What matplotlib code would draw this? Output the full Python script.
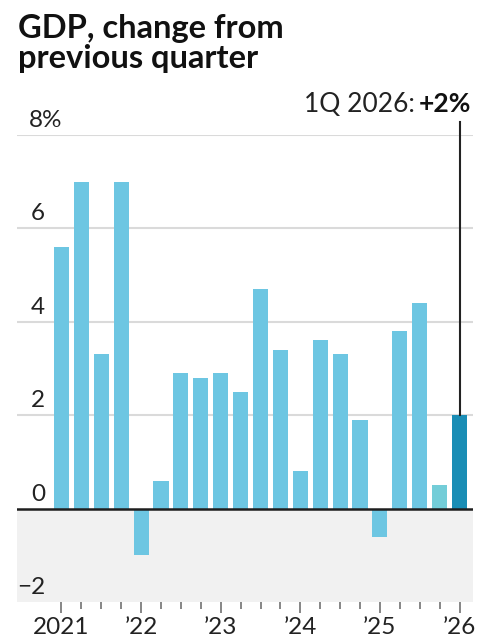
import matplotlib
matplotlib.use("Agg")
import matplotlib.pyplot as plt
import matplotlib.transforms as mtransforms

plt.rcParams['font.family'] = ['Lato', 'DejaVu Sans']

# Quarterly GDP change, annualized (%) 1Q 2021 .. 1Q 2026
quarters = ['1Q21', '2Q21', '3Q21', '4Q21', '1Q22', '2Q22', '3Q22', '4Q22',
            '1Q23', '2Q23', '3Q23', '4Q23', '1Q24', '2Q24', '3Q24', '4Q24',
            '1Q25', '2Q25', '3Q25', '4Q25', '1Q26']
values = [5.6, 7.0, 3.3, 7.0, -1.0, 0.6, 2.9, 2.8,
          2.9, 2.5, 4.7, 3.4, 0.8, 3.6, 3.3, 1.9,
          -0.6, 3.8, 4.4, 0.5, 2.0]
year_labels = ['2021', '\u201922', '\u201923', '\u201924', '\u201925', '\u201926']
y_ticks = [-2, 0, 2, 4, 6, 8]
y_tick_labels = ['\u22122', '0', '2', '4', '6', '8%']

light = '#6dc6e2'
dark = '#1a8db5'
colors = [light] * len(values)
colors[-2] = '#73cdd8'
colors[-1] = dark

W, H = 485, 643
fig = plt.figure(figsize=(W / 100, H / 100), dpi=100)
ax = fig.add_axes([17 / W, 1 - 602 / H, 456 / W, 467 / H])

x = list(range(len(values)))
ax.set_xlim(-2.236, 20.678)
ax.set_ylim(-2, 8)

# shaded negative zone and gridlines
ax.axhspan(-2, 0, color='#f1f1f1', zorder=0, lw=0)
for v in y_ticks[2:]:
    ax.axhline(v, color='#dadada', lw=1.5, zorder=1)

ax.bar(x, values, width=0.76, color=colors, zorder=2)
ax.axhline(0, color='#1e1e1e', lw=1.8, zorder=3)

for s in ax.spines.values():
    s.set_visible(False)
ax.set_yticks([])

# y labels sit above the gridlines
trans = mtransforms.blended_transform_factory(ax.transAxes, ax.transData)
for v, lab in zip(y_ticks, y_tick_labels):
    if lab.endswith('%'):
        xa, ha = 0.026, 'left'
    else:
        xa, ha = 0.0614, 'right'
    ax.annotate(lab, xy=(xa, v), xycoords=trans, xytext=(0, 8),
                textcoords='offset pixels', ha=ha, va='baseline',
                fontsize=17.5, color='#222222')

# x ticks: long ones at year starts, short ones for other quarters
year_idx = [i for i in x if i % 4 == 0]
ax.set_xticks(year_idx)
ax.set_xticklabels(year_labels, fontsize=17.5, color='#222222')
ax.set_xticks([i for i in x if i % 4 != 0], minor=True)
ax.tick_params(axis='x', which='major', length=8, width=1.1, color='#666666', pad=3)
ax.tick_params(axis='x', which='minor', length=5, width=1.1, color='#666666')

# title
fig.text(18 / W, 1 - 14 / H, 'GDP, change from\nprevious quarter', ha='left', va='top',
         fontsize=23.5, fontweight='bold', color='#111111', linespacing=1.05)

# annotation for latest quarter
line_top = 8 + 13 * (10 / 467)
ax.plot([x[-1], x[-1]], [values[-1], line_top], color='#222222', lw=1.5,
        clip_on=False, zorder=4)
fig.canvas.draw()
r = fig.canvas.get_renderer()
bold = fig.text(471 / W, 1 - 112 / H, '+%g%%' % values[-1], ha='right', va='baseline',
                fontsize=19, fontweight='bold', color='#111111')
bb = bold.get_window_extent(renderer=r)
fig.text(bb.x0 / W - 4 / W, 1 - 112 / H, '1Q 2026:', ha='right', va='baseline',
         fontsize=19, color='#222222')

fig.savefig('out.png', dpi=100)
